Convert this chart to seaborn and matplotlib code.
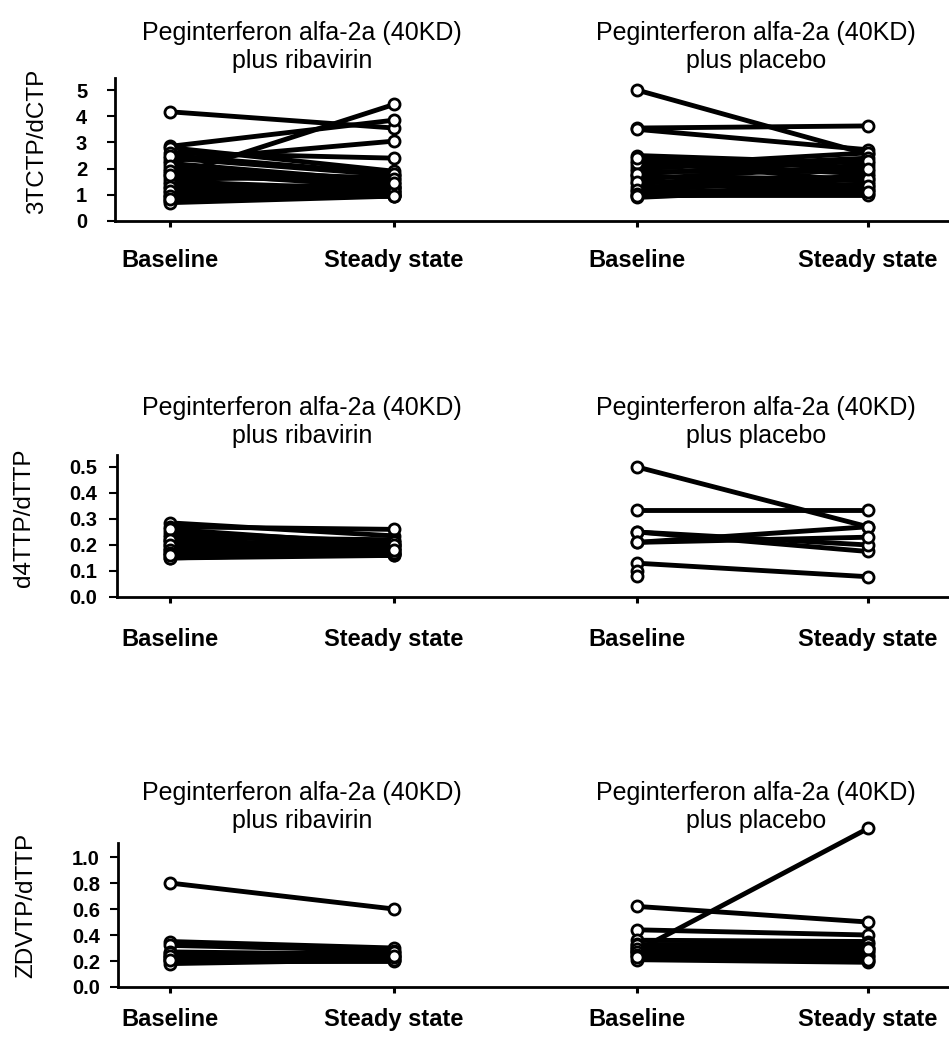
import numpy as np
import pandas as pd
import matplotlib
matplotlib.use("Agg")
import matplotlib.pyplot as plt
from matplotlib.ticker import FormatStrFormatter
import seaborn as sns

sns.set_theme(style="ticks")
plt.rcParams['font.family'] = ['Liberation Sans', 'DejaVu Sans']

# ---------------- data ----------------
time_labels = ["Baseline", "Steady state", "Baseline", "Steady state"]
group_titles = ["Peginterferon alfa-2a (40KD)\nplus ribavirin",
                "Peginterferon alfa-2a (40KD)\nplus placebo"]
ylabels = ["3TCTP/dCTP", "d4TTP/dTTP", "ZDVTP/dTTP"]

# 3TCTP/dCTP
tc_rib_base = [4.17, 2.85, 2.80, 2.60, 2.40, 2.30, 2.20, 2.00, 1.85, 1.70, 1.50, 1.40,
               1.25, 1.10, 1.00, 0.90, 0.80, 0.75, 0.70, 1.60,
               2.50, 2.10, 1.90, 1.30, 1.15, 0.95, 0.85, 1.75]
tc_rib_ss = [3.55, 3.85, 1.90, 2.40, 1.75, 3.05, 1.50, 1.60, 1.30, 4.45, 1.20, 1.05,
             1.40, 1.10, 0.95, 1.30, 1.00, 1.15, 0.95, 1.70,
             1.80, 1.30, 1.60, 1.00, 1.25, 1.10, 0.95, 1.45]
tc_pla_base = [5.00, 3.55, 3.50, 2.50, 2.30, 2.10, 1.90, 1.75, 1.60, 1.45, 1.30, 1.15,
               1.00, 0.90, 2.00, 1.70,
               2.20, 1.80, 1.50, 1.20, 1.05, 0.95, 2.40]
tc_pla_ss = [2.55, 3.63, 2.72, 2.20, 1.50, 2.60, 1.90, 1.20, 2.10, 1.70, 1.40, 1.05,
             1.00, 1.30, 2.40, 1.60,
             1.80, 2.30, 1.20, 1.60, 1.35, 1.10, 2.00]

# d4TTP/dTTP
d4_rib_base = [0.285, 0.27, 0.25, 0.24, 0.22, 0.21, 0.20, 0.19, 0.18, 0.17, 0.16, 0.15,
               0.15, 0.23, 0.26, 0.22, 0.20, 0.18, 0.17, 0.16]
d4_rib_ss = [0.235, 0.26, 0.21, 0.20, 0.19, 0.18, 0.20, 0.17, 0.165, 0.17, 0.16, 0.16,
             0.17, 0.22, 0.20, 0.18, 0.21, 0.19, 0.20, 0.18]
d4_pla_base = [0.50, 0.335, 0.25, 0.25, 0.21, 0.21, 0.13, 0.10, 0.08]
d4_pla_ss = [0.27, 0.335, 0.175, 0.20, 0.27, 0.23, 0.078, np.nan, np.nan]

# ZDVTP/dTTP
zdv_rib_base = [0.80, 0.35, 0.32, 0.27, 0.25, 0.23, 0.22, 0.21, 0.20, 0.18,
                0.26, 0.24, 0.21]
zdv_rib_ss = [0.60, 0.30, 0.28, 0.25, 0.22, 0.24, 0.21, 0.26, 0.20, 0.21,
              0.23, 0.27, 0.24]
zdv_pla_base = [0.62, 0.44, 0.28, 0.36, 0.33, 0.31, 0.30, 0.28, 0.26, 0.24, 0.21,
                0.32, 0.29, 0.27, 0.25, 0.23]
zdv_pla_ss = [0.50, 0.40, 1.22, 0.35, 0.33, 0.30, 0.28, 0.25, 0.22, 0.20, 0.19,
              0.27, 0.30, 0.24, 0.29, 0.21]

rows_data = [
    (tc_rib_base, tc_rib_ss, tc_pla_base, tc_pla_ss),
    (d4_rib_base, d4_rib_ss, d4_pla_base, d4_pla_ss),
    (zdv_rib_base, zdv_rib_ss, zdv_pla_base, zdv_pla_ss),
]
yticks = [np.arange(0, 6, 1), np.round(np.arange(0, 0.51, 0.1), 1),
          np.round(np.arange(0, 1.01, 0.2), 1)]
yfmt = ["%d", "%.1f", "%.1f"]

# ---------------- layout ----------------
W, H = 949, 1039
XPOS = [0.0, 1.0, 2.085, 3.116]          # category positions on the shared x axis
PX0, PXU = 170.0, 224.0                   # pixel of x=0 and pixels per unit
ROW_BOX = [(115, 78, 949, 221), (117, 455, 949, 597), (118, 843, 949, 987)]
YTOP = [5.46, 0.546, 1.108]
XPAD = [16, 18, 11]
YPAD = [14, 8, 7]
YLAB_POS = [(37, 141), (24, 518), (26, 905)]
TITLE_Y = [47, 422, 807]
TITLE_X = [302, 756]

fig = plt.figure(figsize=(W / 100, H / 100), dpi=100)
fig.patch.set_facecolor("white")

for r, (rb, rs, pb, ps) in enumerate(rows_data):
    left, top, right, bottom = ROW_BOX[r]
    ax = fig.add_axes([left / W, 1 - bottom / H, (right - left) / W, (bottom - top) / H])
    ax.set_facecolor("white")

    recs = []
    for g, (b, s) in enumerate([(rb, rs), (pb, ps)]):
        for i, (vb, vs) in enumerate(zip(b, s)):
            recs.append(dict(subject=f"{g}-{i}", pos=XPOS[2 * g], value=vb))
            recs.append(dict(subject=f"{g}-{i}", pos=XPOS[2 * g + 1], value=vs))
    df = pd.DataFrame(recs)

    sns.lineplot(data=df, x="pos", y="value", units="subject", estimator=None,
                 color="black", linewidth=3.5, sort=False, legend=False, ax=ax,
                 clip_on=False)
    sns.scatterplot(data=df.dropna(), x="pos", y="value", s=64, facecolor="white",
                    edgecolor="black", linewidth=2, legend=False, ax=ax,
                    zorder=3, clip_on=False)

    ax.set_xlim((left - PX0) / PXU, (right - PX0) / PXU)
    ax.set_ylim(0, YTOP[r])
    ax.set_xticks(XPOS)
    ax.set_xticklabels(time_labels, fontsize=17, fontweight="bold")
    ax.set_yticks(yticks[r])
    ax.yaxis.set_major_formatter(FormatStrFormatter(yfmt[r]))
    for lab in ax.get_yticklabels():
        lab.set_fontsize(14.5)
        lab.set_fontweight("bold")
    ax.tick_params(axis="x", length=4, width=2.2, pad=XPAD[r], colors="black")
    ax.tick_params(axis="y", length=6, width=1.5, pad=YPAD[r], colors="black")
    ax.set_xlabel("")
    ax.set_ylabel("")
    for sp in ["top", "right"]:
        ax.spines[sp].set_visible(False)
    for sp in ["left", "bottom"]:
        ax.spines[sp].set_linewidth(2)
        ax.spines[sp].set_color("black")
    ax.grid(False)

    fig.text(YLAB_POS[r][0] / W, 1 - YLAB_POS[r][1] / H, ylabels[r], rotation=90,
             ha="center", va="center", fontsize=17.5, color="black")
    for g in range(2):
        fig.text(TITLE_X[g] / W, 1 - TITLE_Y[r] / H, group_titles[g], ha="center",
                 va="center", fontsize=18, linespacing=1.2, color="black")

fig.savefig("out.png", dpi=100, facecolor="white")
